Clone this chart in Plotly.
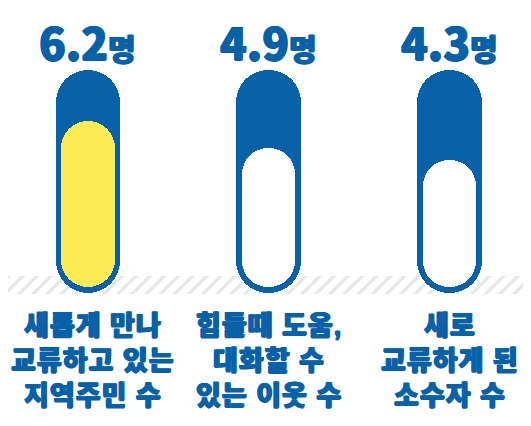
import plotly.graph_objects as go

# ---- data ----
categories = ["새롭게 만나<br>교류하고 있는<br>지역주민 수",
              "힘들때 도움,<br>대화할 수<br>있는 이웃 수",
              "새로<br>교류하게 된<br>소수자 수"]
values = [6.2, 4.9, 4.3]
value_labels = ["6.2", "4.9", "4.3"]
unit = "명"
fill_colors = ["#FCEB55", "#FFFFFF", "#FFFFFF"]

# ---- style / geometry constants (axis units) ----
BLUE = "#0761A8"
OUTER_TOP = 8.63
OUTER_BOTTOM = -2.10
FILL_BASE = -1.815
OUTER_W = 0.359
INNER_W = 0.293
FONT = "Noto Sans CJK KR"
LABEL_FONT = "Liberation Sans, Noto Sans CJK KR"
SHADOW = f"0.8px 0 0 {BLUE}, -0.8px 0 0 {BLUE}, 0 0.5px 0 {BLUE}"
LABEL_XSHIFT = [5, 0, 0]

x = list(range(len(values)))
fig = go.Figure()

# hatched ground band
fig.add_trace(go.Bar(
    x=[1.025], y=[-2.15 - (-1.29)], base=[-1.29], width=[3.2],
    marker=dict(color="white", line=dict(width=0),
                pattern=dict(shape="/", fgcolor="#C9D1CE", bgcolor="white",
                             size=10, solidity=0.33)),
    hoverinfo="skip", showlegend=False))

# outer capsule (bar with base -> both ends rounded)
fig.add_trace(go.Bar(x=x, y=[OUTER_TOP - OUTER_BOTTOM] * 3, base=[OUTER_BOTTOM] * 3,
                     width=[OUTER_W] * 3,
                     marker=dict(color=BLUE, line=dict(width=0), cornerradius="50%"),
                     hoverinfo="skip", showlegend=False))

# inner fill capsule
fig.add_trace(go.Bar(x=x, y=[v - FILL_BASE for v in values], base=[FILL_BASE] * 3,
                     width=[INNER_W] * 3,
                     marker=dict(color=fill_colors, line=dict(width=0), cornerradius="50%"),
                     hoverinfo="skip", showlegend=False))

# value labels
for xi, lab in zip(x, value_labels):
    fig.add_annotation(x=xi, y=1, xref="x", yref="paper",
                       text=f"{lab}<span style='font-size:30px'>{unit}</span>",
                       showarrow=False, yanchor="top", xanchor="center", borderpad=0,
                       font=dict(family=FONT, size=44, color=BLUE, weight=900, shadow=SHADOW))

# category labels, one annotation per line
line_centers = [318, 353, 388]
for xi, cat, xs in zip(x, categories, LABEL_XSHIFT):
    for ln, yc in zip(cat.split("<br>"), line_centers):
        fig.add_annotation(x=xi, y=1 - yc / 426, xref="x", yref="paper", xshift=xs,
                           text=f"<span style='letter-spacing:1px'>{ln}</span>",
                           showarrow=False, yanchor="middle", xanchor="center", borderpad=0,
                           font=dict(family=LABEL_FONT, size=27, color=BLUE, weight=900, shadow=SHADOW))

fig.update_layout(
    width=531, height=426, margin=dict(l=0, r=0, t=0, b=0),
    paper_bgcolor="white", plot_bgcolor="white",
    barmode="overlay", bargap=0,
    xaxis=dict(range=[-0.442, 2.492], visible=False, fixedrange=True),
    yaxis=dict(range=[-8.89, 11.62], visible=False, fixedrange=True),
    showlegend=False,
)

fig.write_html("out.html")
